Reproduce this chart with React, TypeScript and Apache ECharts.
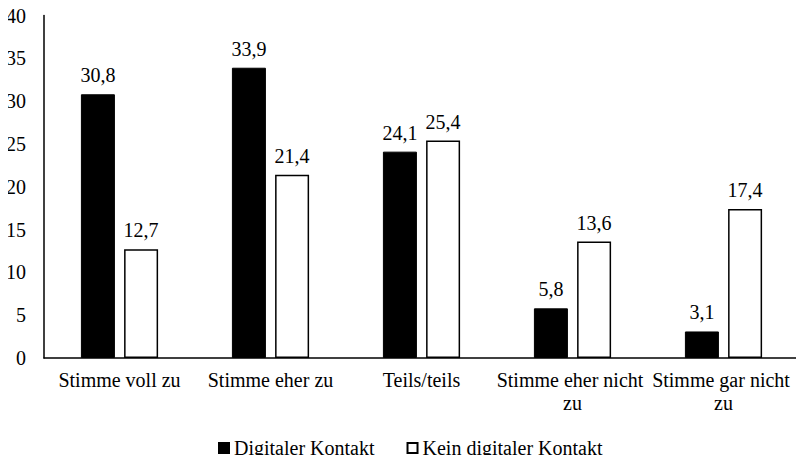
import React, { useEffect, useRef } from "react";
import * as echarts from "echarts";

const categories = [
  "Stimme voll zu",
  "Stimme eher zu",
  "Teils/teils",
  "Stimme eher nicht zu",
  "Stimme gar nicht zu",
];
const digitalerKontakt = [30.8, 33.9, 24.1, 5.8, 3.1];
const keinDigitalerKontakt = [12.7, 21.4, 25.4, 13.6, 17.4];
const seriesNames = ["Digitaler Kontakt", "Kein digitaler Kontakt"];
const yTicks = { min: 0, max: 40, interval: 5 };

const FONT = "Liberation Serif";
const FS = 20;
const fmt = (v: number) => v.toFixed(1).replace(".", ",");

export default function App() {
  const ref = useRef<HTMLDivElement>(null);
  useEffect(() => {
    if (!ref.current) return;
    const chart = echarts.init(ref.current, null, { renderer: "svg" });
    const labelCfg = {
      show: true,
      position: "top",
      distance: 9,
      color: "#000",
      fontFamily: FONT,
      fontSize: FS,
      formatter: (p: any) => fmt(p.value),
    };
    chart.setOption({
      animation: false,
      backgroundColor: "#fff",
      textStyle: { fontFamily: FONT, color: "#000", fontSize: FS },
      grid: { left: 44, right: 0, top: 15.5, bottom: 105, containLabel: false },
      legend: {
        top: 438,
        left: 218,
        icon: "rect",
        itemWidth: 10,
        itemHeight: 10,
        itemGap: 32,
        padding: 0,
        textStyle: { fontFamily: FONT, fontSize: FS, color: "#000" },
        data: seriesNames,
      },
      xAxis: {
        type: "category",
        data: categories,
        axisLine: { lineStyle: { color: "#000", width: 1.5 } },
        axisTick: { show: false },
        axisLabel: {
          color: "#000",
          fontFamily: FONT,
          fontSize: FS,
          margin: 10,
          lineHeight: 23.5,
          width: 156,
          overflow: "break",
          interval: 0,
        },
      },
      yAxis: {
        type: "value",
        min: yTicks.min,
        max: yTicks.max,
        interval: yTicks.interval,
        axisLine: { show: true, lineStyle: { color: "#000", width: 1.5 } },
        axisTick: { show: false },
        splitLine: { show: false },
        axisLabel: { color: "#000", fontFamily: FONT, fontSize: FS, margin: 18 },
      },
      series: [
        {
          name: seriesNames[0],
          type: "bar",
          data: digitalerKontakt,
          barWidth: 34,
          barGap: "27%",
          itemStyle: { color: "#000", borderColor: "#000", borderWidth: 1 },
          label: labelCfg,
        },
        {
          name: seriesNames[1],
          type: "bar",
          data: keinDigitalerKontakt,
          barWidth: 34,
          barGap: "27%",
          itemStyle: { color: "#fff", borderColor: "#000", borderWidth: 1.5 },
          label: labelCfg,
        },
      ],
    });
    return () => chart.dispose();
  }, []);
  return <div ref={ref} style={{ width: 804, height: 463, margin: -8 }} />;
}
